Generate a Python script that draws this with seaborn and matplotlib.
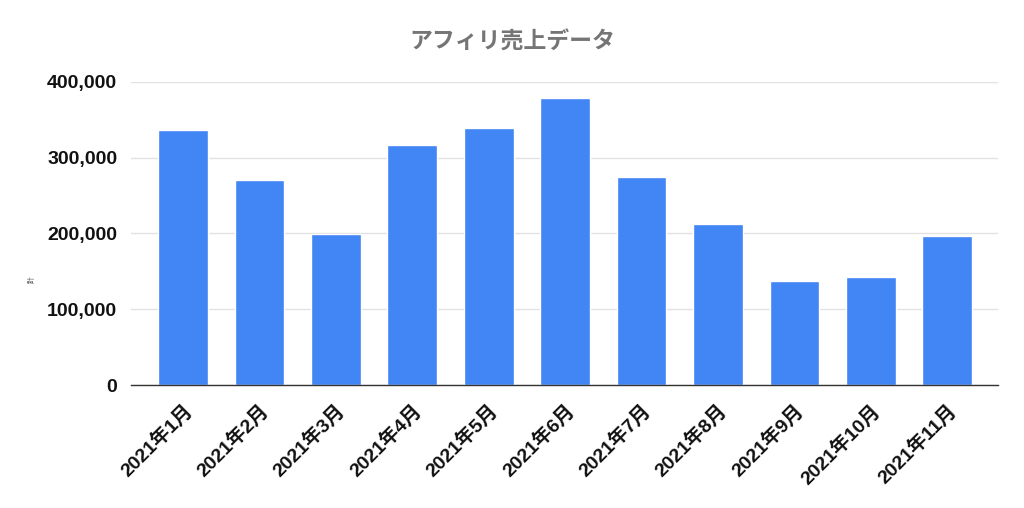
import numpy as np
import pandas as pd
import matplotlib.pyplot as plt
import seaborn as sns

# データ
months = ['2021年1月', '2021年2月', '2021年3月', '2021年4月', '2021年5月', '2021年6月',
          '2021年7月', '2021年8月', '2021年9月', '2021年10月', '2021年11月']
sales = [337000, 270000, 199000, 317000, 339000, 378000,
         274000, 212000, 137000, 143000, 197000]

df = pd.DataFrame({'month': months, 'sales': sales})

sns.set_theme(style="white")
plt.rcParams['font.family'] = ['Liberation Sans', 'Noto Sans CJK JP', 'DejaVu Sans']

fig, ax = plt.subplots(figsize=(10.24, 5.08), dpi=100)
fig.subplots_adjust(left=0.128, right=0.975, top=0.839, bottom=0.242)

sns.barplot(data=df, x='month', y='sales', color='#4285F4', saturation=1,
            width=0.65, ax=ax, zorder=3)

ax.set_xlim(-0.68, 10.67)
ax.set_ylim(0, 400000)
yt = [0, 100000, 200000, 300000, 400000]
ax.set_yticks(yt)
ax.set_yticklabels([f'{v:,}' for v in yt], fontsize=14, fontweight='bold', color='#111111')
ax.grid(axis='y', color='#e2e2e2', linewidth=1, zorder=0)
ax.tick_params(axis='both', length=0)
ax.tick_params(axis='y', pad=10)
ax.tick_params(axis='x', pad=12)

for lab in ax.get_xticklabels():
    lab.set_rotation(45)
    lab.set_ha('right')
    lab.set_rotation_mode('anchor')
    lab.set_fontsize(14)
    lab.set_fontweight('bold')
    lab.set_color('#111111')

ax.set_xlabel('')
ax.set_ylabel('計', fontsize=5, color='#444444', family=['Noto Sans CJK JP'])
ax.yaxis.set_label_coords(-0.11, 0.347)

for s in ['top', 'right', 'left']:
    ax.spines[s].set_visible(False)
ax.spines['bottom'].set_color('#333333')
ax.spines['bottom'].set_linewidth(1)
ax.spines['bottom'].set_zorder(4)

fig.suptitle('アフィリ売上データ', x=0.5, y=0.94, fontsize=16.5, fontweight='bold',
             color='#757575', family=['Noto Sans CJK JP'])

plt.savefig('out.png', dpi=100)
